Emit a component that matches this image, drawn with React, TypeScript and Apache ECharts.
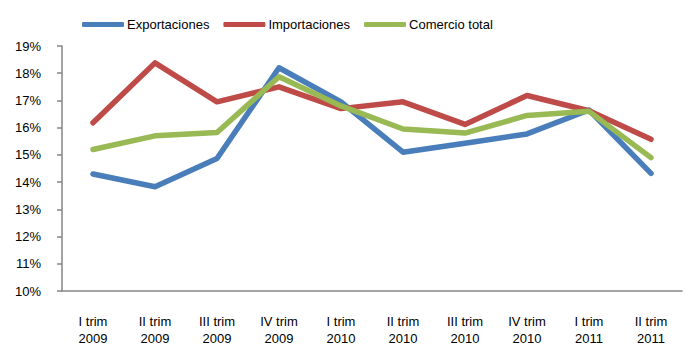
import React, { useEffect, useRef } from "react";
import * as echarts from "echarts";

const categories = [
  "I trim\n2009", "II trim\n2009", "III trim\n2009", "IV trim\n2009",
  "I trim\n2010", "II trim\n2010", "III trim\n2010", "IV trim\n2010",
  "I trim\n2011", "II trim\n2011",
];
const exportaciones = [14.3, 13.83, 14.87, 18.2, 16.95, 15.1, 15.43, 15.77, 16.65, 14.32];
const importaciones = [16.18, 18.38, 16.95, 17.5, 16.7, 16.95, 16.12, 17.18, 16.62, 15.57];
const comercioTotal = [15.2, 15.7, 15.82, 17.87, 16.8, 15.95, 15.8, 16.45, 16.6, 14.9];
const yTicks = { min: 10, max: 19, interval: 1 };

const FONT = "'Liberation Sans', Arial, sans-serif";

export default function App() {
  const ref = useRef<HTMLDivElement>(null);
  useEffect(() => {
    if (!ref.current) return;
    const chart = echarts.init(ref.current, null, { renderer: "svg" });
    const line = (name: string, data: number[], color: string) => ({
      name,
      type: "line",
      data,
      symbol: "none",
      lineStyle: { width: 5.5, color, cap: "round", join: "round" },
      itemStyle: { color },
    });
    chart.setOption({
      animation: false,
      textStyle: { fontFamily: FONT },
      legend: {
        left: 77,
        top: 13,
        itemWidth: 42,
        itemHeight: 5,
        itemGap: 14,
        icon: "roundRect",
        textStyle: { fontSize: 13, color: "#000", fontFamily: FONT, padding: [0, 0, 0, -2] },
        data: ["Exportaciones", "Importaciones", "Comercio total"],
      },
      grid: {
        left: 62,
        right: 4,
        top: 46,
        bottom: 56,
        containLabel: false,
        outerBoundsMode: "none",
      },
      xAxis: {
        type: "category",
        data: categories,
        boundaryGap: true,
        axisLine: { lineStyle: { color: "#868686", width: 1.5 } },
        axisTick: { show: false },
        axisLabel: {
          fontSize: 13,
          color: "#000",
          lineHeight: 17,
          margin: 22,
          interval: 0,
          fontFamily: FONT,
        },
      },
      yAxis: {
        type: "value",
        min: yTicks.min,
        max: yTicks.max,
        interval: yTicks.interval,
        splitLine: { show: false },
        axisLine: { show: true, lineStyle: { color: "#868686", width: 1.5 } },
        axisTick: { show: true, length: 5, lineStyle: { color: "#868686", width: 1.5 } },
        axisLabel: {
          fontSize: 13,
          color: "#000",
          margin: 21,
          fontFamily: FONT,
          formatter: (v: number) => `${v}%`,
        },
      },
      series: [
        line("Exportaciones", exportaciones, "#4A7EBB"),
        line("Importaciones", importaciones, "#BE4B48"),
        line("Comercio total", comercioTotal, "#98B954"),
      ],
    });
    return () => chart.dispose();
  }, []);
  return <div ref={ref} style={{ width: 686, height: 347, position: "absolute", left: 0, top: 0 }} />;
}
